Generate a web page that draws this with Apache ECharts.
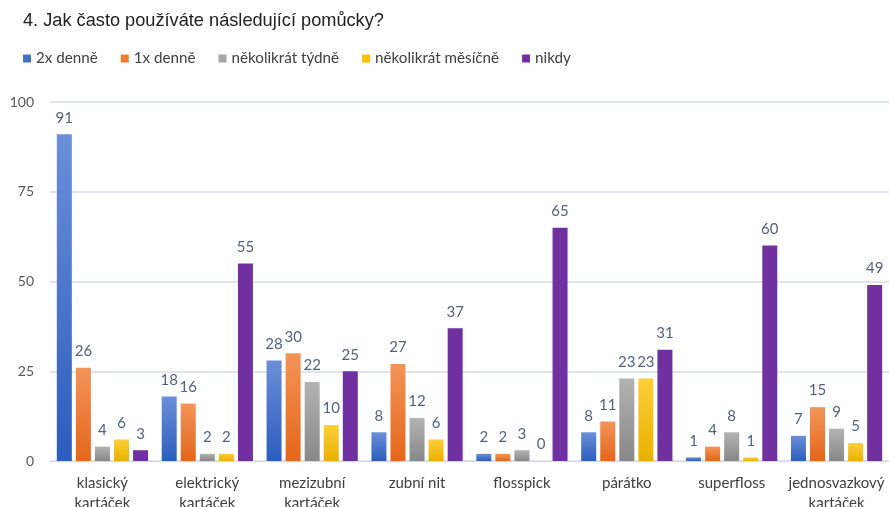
<!DOCTYPE html>
<html><head><meta charset="utf-8">
<script src="https://cdn.jsdelivr.net/npm/echarts@6/dist/echarts.min.js"></script>
<style>html,body{margin:0;padding:0;background:#fff}#c{width:889px;height:507px}</style>
</head><body><div id="c"></div>
<script>
const categories = ["klasický\nkartáček","elektrický\nkartáček","mezizubní\nkartáček","zubní nit","flosspick","párátko","superfloss","jednosvazkový\nkartáček"];
const seriesNames = ["2x denně","1x denně","několikrát týdně","několikrát měsíčně","nikdy"];
const s2xDenne = [91,18,28,8,2,8,1,7];
const s1xDenne = [26,16,30,27,2,11,4,15];
const sTydne = [4,2,22,12,3,23,8,9];
const sMesicne = [6,2,10,6,0,23,1,5];
const sNikdy = [3,55,25,37,65,31,60,49];
const yTicks = [0,25,50,75,100];

const values = [s2xDenne,s1xDenne,sTydne,sMesicne,sNikdy];
const grads = [["#6b8fd8","#2c5cbd"],["#f39459","#e4661a"],["#b3b3b3","#878787"],["#ffcf3a","#e8b000"],["#7030a0","#7030a0"]];
const legendColors = ["#4472c4","#ed7d31","#a5a5a5","#ffc000","#7030a0"];
const font = "Lato, 'Open Sans', sans-serif";

const chart = echarts.init(document.getElementById('c'), null, {renderer:'canvas'});
chart.setOption({
  animation:false,
  title:{text:"4. Jak často používáte následující pomůcky?",left:18,top:7,textStyle:{fontFamily:"'Liberation Sans', Arial, sans-serif",fontSize:18.2,fontWeight:'normal',color:'#222'}},
  legend:{left:18,top:46,itemWidth:8,itemHeight:8,itemGap:23,icon:'rect',
    textStyle:{fontFamily:font,fontSize:15.2,color:'#404040'},
    data:seriesNames.map((n,i)=>({name:n,itemStyle:{color:legendColors[i]}}))},
  grid:{left:50,right:0,top:102,bottom:46,containLabel:false,outerBoundsMode:'none'},
  xAxis:{type:'category',data:categories,
    axisLine:{lineStyle:{color:'#d9d9d9'}},axisTick:{show:false},
    axisLabel:{interval:0,margin:12,fontFamily:font,fontSize:15,color:'#404040',lineHeight:20}},
  yAxis:{type:'value',min:0,max:100,interval:25,
    axisLine:{show:false},axisTick:{show:false},
    splitLine:{lineStyle:{color:'#d9dde6',width:1.5}},
    axisLabel:{margin:16,fontFamily:font,fontSize:14,color:'#595959',
      formatter:v=>yTicks.includes(v)?String(v):''}},
  series:seriesNames.map((n,i)=>({
    name:n,type:'bar',data:values[i],barGap:'27%',barCategoryGap:'13%',
    itemStyle:{color:new echarts.graphic.LinearGradient(0,0,0,1,[{offset:0,color:grads[i][0]},{offset:1,color:grads[i][1]}])},
    label:{show:true,position:'top',distance:9,fontFamily:font,fontSize:15,color:'#56627a'}
  }))
});
</script></body></html>
